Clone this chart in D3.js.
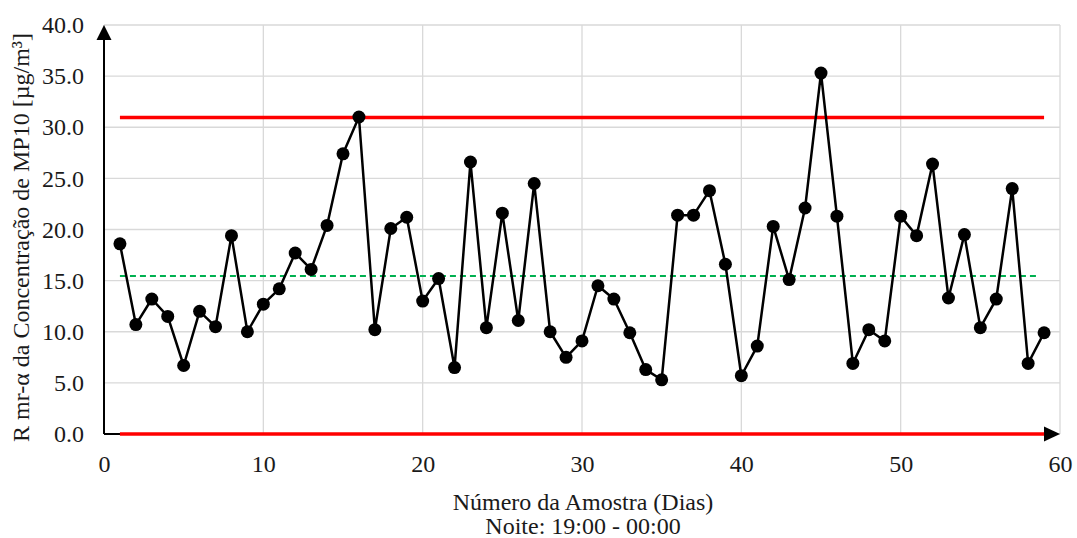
<!DOCTYPE html>
<html>
<head>
<meta charset="utf-8">
<script src="https://cdn.jsdelivr.net/npm/d3@7"></script>
<style>
  html, body { margin: 0; padding: 0; background: #fff; }
  svg { display: block; }
</style>
</head>
<body>
<svg id="chart" width="1077" height="538"></svg>
<script>
// Moving range (R mr-α) of nightly MP10 concentration per sample
const samples = d3.range(1, 60);
const movingRange = [
  18.6, 10.7, 13.2, 11.5, 6.7, 12.0, 10.5, 19.4, 10.0, 12.7,
  14.2, 17.7, 16.1, 20.4, 27.4, 31.0, 10.2, 20.1, 21.2, 13.0,
  15.2, 6.5, 26.6, 10.4, 21.6, 11.1, 24.5, 10.0, 7.5, 9.1,
  14.5, 13.2, 9.9, 6.3, 5.3, 21.4, 21.4, 23.8, 16.6, 5.7,
  8.6, 20.3, 15.1, 22.1, 35.3, 21.3, 6.9, 10.2, 9.1, 21.3,
  19.4, 26.4, 13.3, 19.5, 10.4, 13.2, 24.0, 6.9, 9.9
];
// Control limits
const ucl = 30.95;
const centerLine = 15.45;
const lcl = 0;
const limitStart = 1, limitEnd = 59;

const xTicks = [0, 10, 20, 30, 40, 50, 60];
const yTicks = [0, 5, 10, 15, 20, 25, 30, 35, 40];

const svg = d3.select("#chart");
const plotLeft = 104, plotRight = 1060, plotTop = 25, plotBottom = 434;
const fontSize = 24;
const serif = '"Liberation Serif", "Times New Roman", serif';
const textColor = "#1a1a1a";

const x = d3.scaleLinear().domain([0, 60]).range([plotLeft, plotRight]);
const y = d3.scaleLinear().domain([0, 40]).range([plotBottom, plotTop]);

// Gridlines
const grid = svg.append("g").attr("stroke", "#d9d9d9").attr("stroke-width", 1.3);
grid.selectAll("line.h").data(yTicks).join("line").attr("class", "h")
  .attr("x1", plotLeft).attr("x2", plotRight)
  .attr("y1", d => y(d)).attr("y2", d => y(d));
grid.selectAll("line.v").data(xTicks).join("line").attr("class", "v")
  .attr("x1", d => x(d)).attr("x2", d => x(d))
  .attr("y1", plotTop).attr("y2", plotBottom);

// Axes (labels only; axis lines drawn as arrows below)
function styleAxis(g) {
  g.select(".domain").remove();
  g.attr("font-family", serif).attr("font-size", fontSize);
  g.selectAll("text")
    .style("font-family", serif).style("font-size", fontSize + "px")
    .attr("fill", textColor);
}
const yAxis = d3.axisLeft(y).tickValues(yTicks).tickFormat(d3.format(".1f")).tickSize(0).tickPadding(20);
svg.append("g").attr("transform", `translate(${plotLeft},0)`).call(yAxis).call(styleAxis);

const xAxis = d3.axisBottom(x).tickValues(xTicks).tickFormat(d3.format("d")).tickSize(0).tickPadding(21);
svg.append("g").attr("transform", `translate(0,${plotBottom})`).call(xAxis).call(styleAxis);

// Axis lines with arrowheads
svg.append("line").attr("x1", x(0)).attr("x2", x(0)).attr("y1", y(0)).attr("y2", plotTop + 12)
  .attr("stroke", "#000").attr("stroke-width", 2);
svg.append("path")
  .attr("d", `M${x(0)},${plotTop} L${x(0) - 7.5},${plotTop + 15} L${x(0) + 7.5},${plotTop + 15} Z`)
  .attr("fill", "#000");
svg.append("line").attr("x1", x(0)).attr("x2", plotRight - 12).attr("y1", y(0)).attr("y2", y(0))
  .attr("stroke", "#000").attr("stroke-width", 2);
svg.append("path")
  .attr("d", `M${plotRight},${y(0)} L${plotRight - 16},${y(0) - 7.5} L${plotRight - 16},${y(0) + 7.5} Z`)
  .attr("fill", "#000");

// Control limits
svg.append("line").attr("x1", x(limitStart)).attr("x2", x(limitEnd))
  .attr("y1", y(ucl)).attr("y2", y(ucl))
  .attr("stroke", "#ff0000").attr("stroke-width", 3.5);
svg.append("line").attr("x1", x(limitStart)).attr("x2", x(limitEnd))
  .attr("y1", y(lcl)).attr("y2", y(lcl))
  .attr("stroke", "#ff0000").attr("stroke-width", 3.5);
svg.append("line").attr("x1", x(limitStart)).attr("x2", x(limitEnd) - 6)
  .attr("y1", y(centerLine)).attr("y2", y(centerLine))
  .attr("stroke", "#00b050").attr("stroke-width", 2).attr("stroke-dasharray", "6,4");

// Series line and markers
const pts = samples.map((s, i) => [s, movingRange[i]]);
svg.append("path").datum(pts)
  .attr("fill", "none").attr("stroke", "#000").attr("stroke-width", 2.5)
  .attr("stroke-linejoin", "round")
  .attr("d", d3.line().x(d => x(d[0])).y(d => y(d[1])));
svg.append("g").selectAll("circle").data(pts).join("circle")
  .attr("cx", d => x(d[0])).attr("cy", d => y(d[1])).attr("r", 6.5).attr("fill", "#000");

// Axis titles
function title(sel) {
  return sel.attr("text-anchor", "middle")
    .style("font-family", serif).style("font-size", fontSize + "px")
    .attr("fill", textColor);
}
svg.append("text").attr("x", (plotLeft + plotRight) / 2 + 1).attr("y", 510)
  .call(title).text("Número da Amostra (Dias)");
svg.append("text").attr("x", (plotLeft + plotRight) / 2 + 1).attr("y", 534)
  .call(title).text("Noite: 19:00 - 00:00");
svg.append("text")
  .attr("transform", `translate(29,${(plotTop + plotBottom) / 2 + 8}) rotate(-90)`)
  .call(title).text("R mr-α da Concentração de MP10 [µg/m³]");
</script>
</body>
</html>
